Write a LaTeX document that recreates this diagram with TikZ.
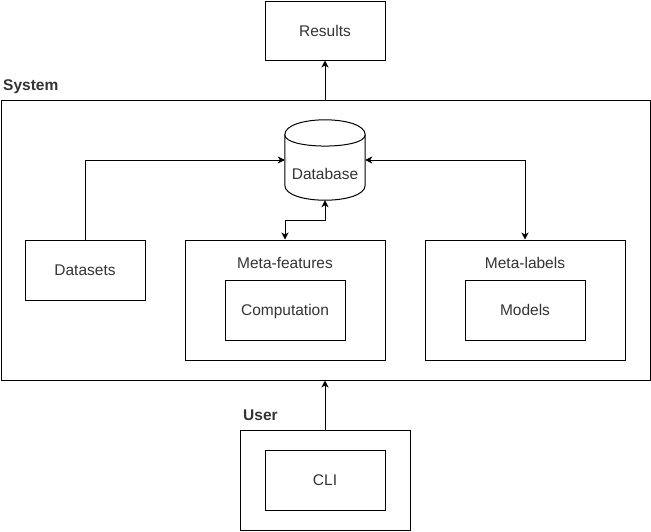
\documentclass[tikz,border=0pt]{standalone}
\usepackage{fontspec}
\setmainfont{Liberation Sans}
\usetikzlibrary{arrows.meta}

\begin{document}
\begin{tikzpicture}[x=1pt,y=-1pt,
  every node/.style={text=black!80,font=\fontsize{15.5}{18}\selectfont,text height=11.1pt,text depth=0pt},
  box/.style={draw=black,line width=1pt,minimum width=120pt,minimum height=60pt,inner sep=0pt},
  frame/.style={draw=black,line width=1pt,inner sep=0pt},
  title/.style={font=\fontsize{15.5}{18}\selectfont\bfseries,anchor=west,inner sep=0pt},
  txt/.style={inner sep=0pt},
  link/.style={line width=1pt,arrows=-{Stealth[length=7pt,width=7pt,inset=2pt]}},
  dlink/.style={line width=1pt,arrows={Stealth[length=7pt,width=7pt,inset=2pt]-Stealth[length=7pt,width=7pt,inset=2pt]}}]
\useasboundingbox (0,0) rectangle (651,531);

\node[box] (res) at (325,30.5) [minimum height=59pt] {Results};

\node[title] (systitle) at (3,85) {System};
\node[frame,minimum width=649pt,minimum height=280pt] (sys) at (325.5,240) {};

\node[minimum width=80pt,minimum height=80pt,inner sep=0pt] (db) at (325,160) {};
\draw[line width=1pt] ([yshift=-15pt]db.north west) .. controls ([yshift=5pt]db.north west) and ([yshift=5pt]db.north east) .. ([yshift=-15pt]db.north east)
  -- ([yshift=15pt]db.south east) .. controls ([yshift=-5pt]db.south east) and ([yshift=-5pt]db.south west) .. ([yshift=15pt]db.south west) -- cycle;
\draw[line width=1pt] ([yshift=-15pt]db.north west) .. controls ([yshift=-30pt]db.north west) and ([yshift=-30pt]db.north east) .. ([yshift=-15pt]db.north east);
\node[txt] (dbtext) at (325,174) {Database};

\node[box] (data) at (85,270) {Datasets};

\node[frame,minimum width=200pt,minimum height=120pt] (mf) at (285,300) {};
\node[txt] (mftitle) at (285,263) {Meta-features};
\node[box] (comp) at (285,310) {Computation};

\node[frame,minimum width=200pt,minimum height=120pt] (ml) at (525,300) {};
\node[txt] (mltitle) at (525,263) {Meta-labels};
\node[box] (models) at (525,310) {Models};

\node[title] (usertitle) at (243,415) {User};
\node[frame,minimum width=170pt,minimum height=100pt] (user) at (325,480) {};
\node[box] (cli) at (325,480) {CLI};

\draw[link] (sys.north -| res.south) -- (res.south);
\draw[link] (data.north) |- (db.west);
\draw[dlink] (db.south) -- ++(0,20) -| (mf.north);
\draw[dlink] (db.east) -| (ml.north);
\draw[link] (user.north) -- (sys.south -| user.north);
\end{tikzpicture}
\end{document}
